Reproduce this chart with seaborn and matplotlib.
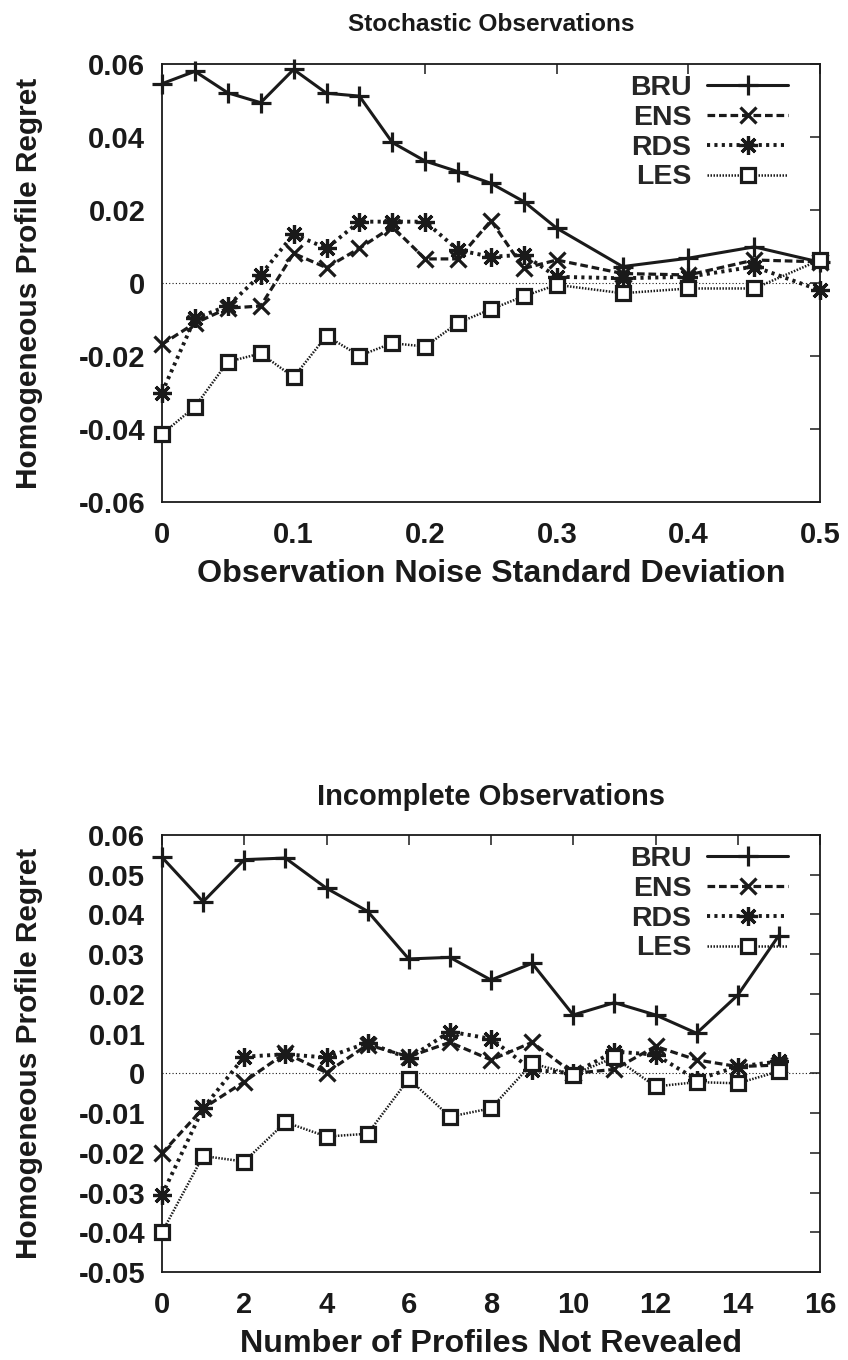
import matplotlib
matplotlib.use("Agg")
import matplotlib.pyplot as plt
import seaborn as sns
import numpy as np

# ---------------- data ----------------
series_names = ["BRU", "ENS", "RDS", "LES"]

# Top chart: Stochastic Observations
noise_sd = [0, 0.025, 0.05, 0.075, 0.1, 0.125, 0.15, 0.175, 0.2, 0.225, 0.25,
            0.275, 0.3, 0.35, 0.4, 0.45, 0.5]
stoch_bru = [0.0546, 0.0580, 0.0521, 0.0494, 0.0585, 0.0520, 0.0512, 0.0385, 0.0334,
             0.0305, 0.0273, 0.0223, 0.0150, 0.0045, 0.0068, 0.0099, 0.0057]
stoch_ens = [-0.0168, -0.0110, -0.0069, -0.0063, 0.0081, 0.0042, 0.0095, 0.0154, 0.0066,
             0.0066, 0.0171, 0.0040, 0.0063, 0.0026, 0.0022, 0.0063, 0.0058]
stoch_rds = [-0.0300, -0.0097, -0.0063, 0.0022, 0.0134, 0.0095, 0.0168, 0.0168, 0.0168,
             0.0090, 0.0072, 0.0077, 0.0017, 0.0013, 0.0017, 0.0045, -0.0020]
stoch_les = [-0.0414, -0.0339, -0.0216, -0.0193, -0.0258, -0.0145, -0.0199, -0.0165, -0.0174,
             -0.0109, -0.0072, -0.0036, -0.0005, -0.0028, -0.0015, -0.0015, 0.0063]

# Bottom chart: Incomplete Observations
not_revealed = [0, 1, 2, 3, 4, 5, 6, 7, 8, 9, 10, 11, 12, 13, 14, 15]
incom_bru = [0.0544, 0.0432, 0.0538, 0.0542, 0.0466, 0.0408, 0.0288, 0.0292, 0.0235,
             0.0277, 0.0147, 0.0178, 0.0147, 0.0101, 0.0197, 0.0347]
incom_ens = [-0.0201, -0.0088, -0.0021, 0.0051, 0.0002, 0.0072, 0.0042, 0.0078, 0.0034,
             0.0078, 0.0000, 0.0010, 0.0068, 0.0034, 0.0017, 0.0021]
incom_rds = [-0.0306, -0.0088, 0.0042, 0.0048, 0.0040, 0.0077, 0.0038, 0.0105, 0.0087,
             0.0009, 0.0000, 0.0055, 0.0047, -0.0016, 0.0017, 0.0030]
incom_les = [-0.0400, -0.0208, -0.0222, -0.0123, -0.0159, -0.0152, -0.0014, -0.0109, -0.0088,
             0.0025, -0.0003, 0.0040, -0.0033, -0.0022, -0.0025, 0.0005]

top_xticks = [0, 0.1, 0.2, 0.3, 0.4, 0.5]
top_xticklabels = ["0", "0.1", "0.2", "0.3", "0.4", "0.5"]
top_yticks = [-0.06, -0.04, -0.02, 0, 0.02, 0.04, 0.06]
top_yticklabels = ["-0.06", "-0.04", "-0.02", "0", "0.02", "0.04", "0.06"]

bot_xticks = [0, 2, 4, 6, 8, 10, 12, 14, 16]
bot_xticklabels = ["0", "2", "4", "6", "8", "10", "12", "14", "16"]
bot_yticks = [-0.05, -0.04, -0.03, -0.02, -0.01, 0, 0.01, 0.02, 0.03, 0.04, 0.05, 0.06]
bot_yticklabels = ["-0.05", "-0.04", "-0.03", "-0.02", "-0.01", "0", "0.01", "0.02",
                   "0.03", "0.04", "0.05", "0.06"]

# ---------------- style ----------------
sns.set_theme(style="white")
plt.rcParams["font.family"] = ["Liberation Sans", "DejaVu Sans"]
plt.rcParams["font.weight"] = "bold"
plt.rcParams["axes.labelweight"] = "bold"
plt.rcParams["axes.titleweight"] = "bold"
TICK_FS = 21
YLAB_FS = 21.5
XLAB_FS = 23.2
LEG_FS = 20.5

styles = {
    "BRU": dict(linestyle="-", lw=2.2, marker="+", ms=14, mew=2.3, mfc="k"),
    "ENS": dict(linestyle=(0, (2.4, 1.2)), lw=2.3, marker="x", ms=11.5, mew=2.3, mfc="k"),
    "RDS": dict(linestyle=(0, (0.8, 1.1)), lw=2.8, marker=(8, 2, 0), ms=13.5, mew=2.3, mfc="k"),
    "LES": dict(linestyle=(0, (0.6, 0.6)), lw=1.8, marker="s", ms=10.5, mew=2.3, mfc="w"),
}

fig = plt.figure(figsize=(8.48, 13.6), dpi=100)


def draw(ax, x, ys, xticks, xtl, yticks, ytl, xlim, ylim, title, title_fs, title_pad, xlabel):
    ax.axhline(0, color="k", lw=0.8, ls=(0, (1, 2)), zorder=1)
    for name, y in zip(series_names, ys):
        st = styles[name]
        sns.lineplot(x=x, y=y, ax=ax, color="k", markeredgecolor="k", label=name,
                     estimator=None, sort=False, zorder=3, clip_on=False, **st)
    ax.set_xlim(*xlim)
    ax.set_ylim(*ylim)
    ax.set_xticks(xticks)
    ax.set_xticklabels(xtl)
    ax.set_yticks(yticks)
    ax.set_yticklabels(ytl)
    ax.tick_params(direction="in", length=7, width=1.1, top=True, right=True,
                   labelsize=TICK_FS, color="k", labelcolor="k")
    ax.tick_params(axis="y", pad=12)
    ax.tick_params(axis="x", pad=13.5)
    for lab in ax.get_xticklabels() + ax.get_yticklabels():
        lab.set_fontweight("bold")
    for s in ax.spines.values():
        s.set_color("k")
        s.set_linewidth(1.3)
        s.set_visible(True)
    ax.set_title(title, fontsize=title_fs, fontweight="bold", pad=title_pad, color="k")
    ax.set_xlabel(xlabel, fontsize=XLAB_FS, fontweight="bold", color="k")
    ax.set_ylabel("Homogeneous Profile Regret", fontsize=YLAB_FS, fontweight="bold", color="k")
    ax.xaxis.set_label_coords(0.5, -0.131)
    ax.yaxis.set_label_coords(-0.181, 0.5)
    leg = ax.legend(loc="upper right", bbox_to_anchor=(0.952, 0.974), frameon=False,
                    markerfirst=False, fontsize=LEG_FS, handlelength=2.85, handletextpad=0.55,
                    labelspacing=0.13, borderpad=0, borderaxespad=0, numpoints=1)
    for t in leg.get_texts():
        t.set_fontweight("bold")


ax1 = fig.add_axes([162 / 848, 1 - 502 / 1360, 658 / 848, 438 / 1360])
draw(ax1, noise_sd, [stoch_bru, stoch_ens, stoch_rds, stoch_les],
     top_xticks, top_xticklabels, top_yticks, top_yticklabels,
     (0, 0.5), (-0.06, 0.06), "Stochastic Observations", 17.6, 24,
     "Observation Noise Standard Deviation")

ax2 = fig.add_axes([162 / 848, 1 - 1272 / 1360, 658 / 848, 437 / 1360])
draw(ax2, not_revealed, [incom_bru, incom_ens, incom_rds, incom_les],
     bot_xticks, bot_xticklabels, bot_yticks, bot_yticklabels,
     (0, 16), (-0.05, 0.06), "Incomplete Observations", 21, 21.6,
     "Number of Profiles Not Revealed")

fig.savefig("out.png", dpi=100)
